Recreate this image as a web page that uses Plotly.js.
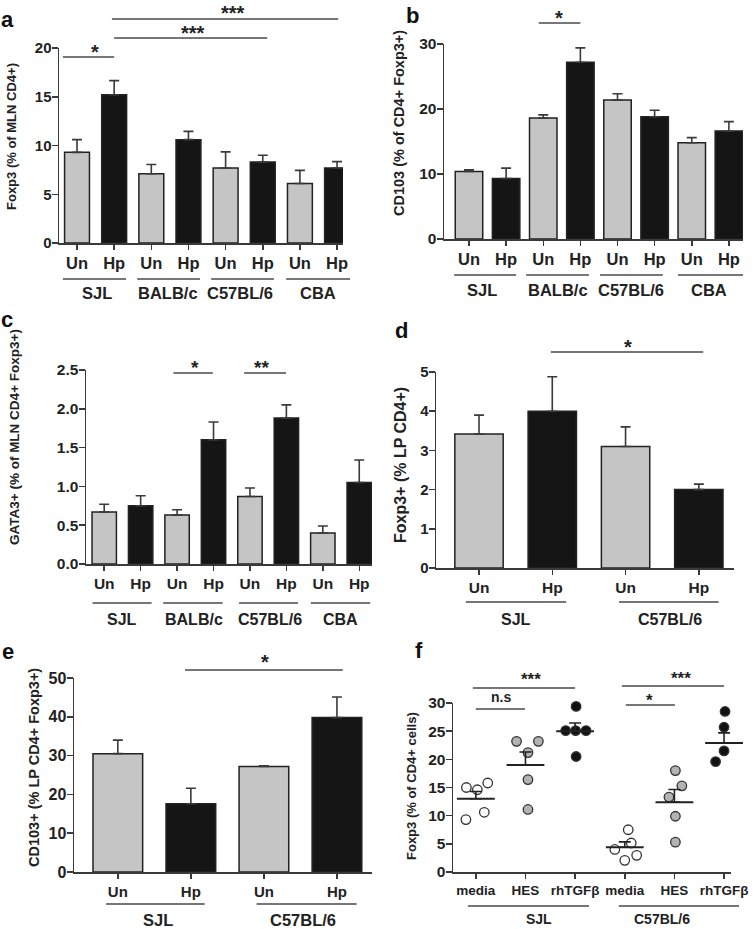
<!DOCTYPE html>
<html>
<head>
<meta charset="utf-8">
<script src="https://cdn.plot.ly/plotly-3.0.1.min.js"></script>
<style>html,body{margin:0;padding:0;background:#fff;}#chart{width:753px;height:929px;}</style>
</head>
<body>
<div id="chart"></div>
<script>
// ---------------- DATA ----------------
const strains4 = ['SJL', 'BALB/c', 'C57BL/6', 'CBA'];
const strains2 = ['SJL', 'C57BL/6'];
const treatments = ['Un', 'Hp'];
const fConditions = ['media', 'HES', 'rhTGFβ'];

// a: Foxp3 (% of MLN CD4+)
const aValues = [9.3, 15.2, 7.1, 10.6, 7.7, 8.3, 6.1, 7.7];
const aSem    = [1.3, 1.45, 0.95, 0.85, 1.65, 0.7, 1.35, 0.65];
// b: CD103 (% of CD4+ Foxp3+)
const bValues = [10.4, 9.3, 18.6, 27.2, 21.4, 18.8, 14.8, 16.6];
const bSem    = [0.25, 1.6, 0.5, 2.2, 0.95, 1.0, 0.8, 1.45];
// c: GATA3+ (% of MLN CD4+ Foxp3+)
const cValues = [0.67, 0.75, 0.63, 1.60, 0.87, 1.88, 0.40, 1.05];
const cSem    = [0.10, 0.13, 0.07, 0.23, 0.11, 0.17, 0.09, 0.29];
// d: Foxp3+ (% LP CD4+)
const dValues = [3.42, 4.0, 3.1, 2.0];
const dSem    = [0.48, 0.88, 0.5, 0.14];
// e: CD103+ (% LP CD4+ Foxp3+)
const eValues = [30.5, 17.6, 27.2, 39.8];
const eSem    = [3.5, 4.0, 0.2, 5.3];
// f: Foxp3 (% of CD4+ cells), individual points per group
const fSJLmedia = [9.3, 10.6, 15.0, 14.6, 15.8];
const fSJLhes   = [23.2, 23.2, 21.2, 16.4, 11.1];
const fSJLtgf   = [29.4, 25.1, 25.1, 25.1, 20.5];
const fC57media = [7.5, 4.0, 5.15, 2.96, 2.07];
const fC57hes   = [18.0, 15.3, 13.3, 9.9, 5.3];
const fC57tgf   = [28.5, 25.7, 21.5, 19.6, 19.6];
const fMeans = [13.0, 19.0, 25.0, 4.4, 12.4, 22.9];
const fSem   = [1.3, 2.3, 1.45, 0.95, 2.25, 1.8];

// ---------------- STYLE / GEOMETRY ----------------
const W = 753, H = 929;
const FONT = '"Liberation Sans", Arial, Helvetica, sans-serif';
const INK = '#222';
const LINE = '#3a3a3a';
const GRAY = '#c5c5c5';
const BLACK = '#151515';
// horizontal jitter of the dots in panel f (visual spread only)
const fJitter = [
  [-0.2, 0.17, -0.19, 0.03, 0.24],
  [-0.18, 0.26, 0.05, 0.05, 0.05],
  [0.02, -0.19, 0.01, 0.22, 0.02],
  [0.07, -0.2, 0.13, 0.24, 0.0],
  [0.02, 0.15, -0.11, 0.02, 0.02],
  [0.02, 0.0, 0.0, -0.17, 0.15]
];
const fGroupColors = ['#ffffff', '#b2b2b2', '#111111'];

const G = {
  a: {x0: 59,  x1: 343, yTop: 48,  yBot: 243, xr: [-0.485, 7.16], yr: [0, 20],  dtick: 5,   fmt: '',    ytf: 15,   xtf: 16.5},
  b: {x0: 444, x1: 743, yTop: 44,  yBot: 239, xr: [-0.673, 7.38], yr: [0, 30],  dtick: 10,  fmt: '',    ytf: 15.5, xtf: 16.5},
  c: {x0: 86,  x1: 372, yTop: 370, yBot: 564, xr: [-0.50, 7.35],  yr: [0, 2.5], dtick: 0.5, fmt: '.1f', ytf: 15.5, xtf: 15.5},
  d: {x0: 436, x1: 734, yTop: 372, yBot: 568, xr: [-0.587, 3.48], yr: [0, 5],   dtick: 1,   fmt: '',    ytf: 15,   xtf: 15.5},
  e: {x0: 74,  x1: 372, yTop: 678, yBot: 872, xr: [-0.60, 3.48],  yr: [0, 50],  dtick: 10,  fmt: '',    ytf: 16,   xtf: 15},
  f: {x0: 453, x1: 731, yTop: 703, yBot: 872, xr: [-0.46, 5.14],  yr: [0, 30],  dtick: 5,   fmt: '',    ytf: 15.5, xtf: 13.5}
};

function cx(g, c) { return (g.x0 + (c - g.xr[0]) / (g.xr[1] - g.xr[0]) * (g.x1 - g.x0)) / W; }
function yp(p) { return 1 - p / H; }

const layout = {
  width: W, height: H,
  margin: {l: 0, r: 0, t: 0, b: 0},
  paper_bgcolor: '#ffffff',
  plot_bgcolor: 'rgba(0,0,0,0)',
  showlegend: false,
  font: {family: FONT, color: INK, size: 14, weight: 'bold'},
  shapes: [],
  annotations: []
};

function barTicks(strains) {
  const v = [], t = [];
  strains.forEach((s, i) => treatments.forEach((tr, j) => { v.push(i * 2 + j); t.push(tr); }));
  return {v, t};
}

function makeAxes(key, idx, tickvals, ticktext) {
  const g = G[key];
  const s = idx === 1 ? '' : String(idx);
  layout['xaxis' + s] = {
    domain: [g.x0 / W, g.x1 / W], range: g.xr, anchor: 'y' + s,
    tickmode: 'array', tickvals: tickvals, ticktext: ticktext,
    ticks: 'outside', ticklen: 5, tickwidth: 1.5, tickcolor: LINE,
    showline: true, linecolor: LINE, linewidth: 1.5,
    showgrid: false, zeroline: false, fixedrange: true,
    tickfont: {family: FONT, size: g.xtf, color: INK, weight: 'bold'}
  };
  layout['yaxis' + s] = {
    domain: [1 - g.yBot / H, 1 - g.yTop / H], range: g.yr, anchor: 'x' + s,
    tickmode: 'linear', tick0: 0, dtick: g.dtick, tickformat: g.fmt,
    ticks: 'outside', ticklen: 6, tickwidth: 1.5, tickcolor: LINE,
    ticklabelstandoff: -3,
    showline: true, linecolor: LINE, linewidth: 1.5,
    showgrid: false, zeroline: false, fixedrange: true,
    tickfont: {family: FONT, size: g.ytf, color: INK, weight: 'bold'}
  };
}

function hline(key, c0, c1, p) {
  const g = G[key];
  layout.shapes.push({type: 'line', xref: 'paper', yref: 'paper',
    x0: cx(g, c0), x1: cx(g, c1), y0: yp(p), y1: yp(p),
    line: {color: '#4a4a4a', width: 1.6}});
}
function label(key, c, p, text, size) {
  const g = G[key];
  layout.annotations.push({xref: 'paper', yref: 'paper', x: cx(g, c), y: yp(p),
    text: text, showarrow: false, xanchor: 'center', yanchor: 'middle',
    font: {family: FONT, size: size, color: INK, weight: 'bold'}});
}
function star(key, c, pCenter, text, size) {
  // asterisks sit high in the text box: shift the box down so the glyph centre lands on pCenter
  label(key, c, pCenter + 0.27 * size, text, size);
}
function ytitle(px, pyc, text, size) {
  layout.annotations.push({xref: 'paper', yref: 'paper', x: px / W, y: yp(pyc), text: text,
    showarrow: false, textangle: -90, xanchor: 'center', yanchor: 'middle',
    font: {family: FONT, size: size, color: INK, weight: 'bold'}});
}
function letter(px, pyc, text) {
  layout.annotations.push({xref: 'paper', yref: 'paper', x: px / W, y: yp(pyc), text: text,
    showarrow: false, xanchor: 'center', yanchor: 'middle',
    font: {family: FONT, size: 22, color: '#111', weight: 'bold'}});
}

const traces = [];
function barTrace(idx, strains, values, sem, width) {
  const s = idx === 1 ? '' : String(idx);
  const tk = barTicks(strains);
  traces.push({
    type: 'bar', x: tk.v, y: values, xaxis: 'x' + s, yaxis: 'y' + s, width: width,
    marker: {color: tk.v.map(v => v % 2 === 0 ? GRAY : BLACK), line: {color: INK, width: 1.5}},
    error_y: {type: 'data', symmetric: false, array: sem, arrayminus: sem.map(() => 0),
      color: LINE, thickness: 1.6, width: 5},
    hoverinfo: 'skip'
  });
  return tk;
}

// ---------- panels a-e (bars) ----------
let tk = barTrace(1, strains4, aValues, aSem, 0.67);
makeAxes('a', 1, tk.v, tk.t);
tk = barTrace(2, strains4, bValues, bSem, 0.74);
makeAxes('b', 2, tk.v, tk.t);
tk = barTrace(3, strains4, cValues, cSem, 0.67);
makeAxes('c', 3, tk.v, tk.t);
tk = barTrace(4, strains2, dValues, dSem, 0.66);
makeAxes('d', 4, tk.v, tk.t);
tk = barTrace(5, strains2, eValues, eSem, 0.68);
makeAxes('e', 5, tk.v, tk.t);

// ---------- panel f (dots + mean ± SEM) ----------
const fGroups = [fSJLmedia, fSJLhes, fSJLtgf, fC57media, fC57hes, fC57tgf];
const fTickVals = [], fTickText = [];
strains2.forEach((s, i) => fConditions.forEach((c, j) => { fTickVals.push(i * 3 + j); fTickText.push(c); }));
fGroups.forEach((pts, gi) => {
  traces.push({
    type: 'scatter', mode: 'markers', xaxis: 'x6', yaxis: 'y6',
    x: pts.map((v, k) => fTickVals[gi] + fJitter[gi][k]), y: pts,
    marker: {size: 9.5, color: fGroupColors[gi % 3], line: {color: '#333', width: 1.3}},
    hoverinfo: 'skip', cliponaxis: false
  });
});
traces.push({
  type: 'scatter', mode: 'markers', xaxis: 'x6', yaxis: 'y6',
  x: fTickVals, y: fMeans,
  marker: {symbol: 'line-ew', size: 27, color: INK, line: {color: INK, width: 2}},
  error_y: {type: 'data', symmetric: false, array: fSem, arrayminus: fSem.map(() => 0),
    color: INK, thickness: 1.6, width: 6},
  hoverinfo: 'skip', cliponaxis: false
});
makeAxes('f', 6, fTickVals, fTickText);

// ---------- group lines & labels ----------
const groupSpans4a = [[-0.38, 1.32], [1.62, 3.31], [3.61, 5.30], [5.63, 7.35]];
const groupSpans4b = [[-0.40, 1.27], [1.54, 3.23], [3.53, 5.22], [5.63, 7.38]];
const groupSpans4c = [[-0.32, 1.30], [1.62, 3.25], [3.70, 5.32], [5.67, 7.30]];
groupSpans4a.forEach(s => hline('a', s[0], s[1], 279));
groupSpans4b.forEach(s => hline('b', s[0], s[1], 275));
groupSpans4c.forEach(s => hline('c', s[0], s[1], 603));
[0.54, 2.45, 4.39, 6.49].forEach((c, i) => label('a', c, 293, strains4[i], 16.5));
[0.35, 2.40, 4.36, 6.46].forEach((c, i) => label('b', c, 290, strains4[i], 16.5));
[0.48, 2.46, 4.55, 6.48].forEach((c, i) => label('c', c, 619, strains4[i], 16));

[[-0.18, 1.19], [1.91, 3.27]].forEach(s => hline('d', s[0], s[1], 602));
[0.5, 2.6].forEach((c, i) => label('d', c, 619, strains2[i], 16));
[[-0.16, 1.19], [1.90, 3.27]].forEach(s => hline('e', s[0], s[1], 904));
[0.55, 2.53].forEach((c, i) => label('e', c, 920, strains2[i], 16.5));
[[-0.16, 2.28], [2.88, 5.30]].forEach(s => hline('f', s[0], s[1], 906));
[1.27, 3.75].forEach((c, i) => label('f', c, 919, strains2[i], 14));

// ---------- significance bars ----------
hline('a', -0.38, 1.0, 57);  star('a', 0.48, 47, '*', 20);
hline('a', 1.0, 5.12, 38);   star('a', 3.12, 28, '***', 20);
hline('a', 0.94, 7.03, 19);  star('a', 4.2, 8, '***', 20);
hline('b', 1.88, 3.0, 23);   star('b', 2.42, 13, '*', 20);
hline('c', 1.9, 2.98, 373);  star('c', 2.49, 362, '*', 19);
hline('c', 3.84, 4.99, 373); star('c', 4.33, 362, '**', 19);
hline('d', 0.98, 3.06, 352); star('d', 2.03, 342, '*', 20);
hline('e', 0.92, 3.08, 670); star('e', 2.01, 657, '*', 20);
hline('f', -0.06, 2.0, 688); star('f', 1.11, 675, '***', 17);
hline('f', 0.0, 0.99, 709);  label('f', 0.5, 697, 'n.s', 14);
hline('f', 2.94, 5.0, 686);  star('f', 4.13, 674, '***', 17);
hline('f', 3.02, 4.01, 705); star('f', 3.49, 696, '*', 17);

// ---------- axis titles ----------
ytitle(11, 137, 'Foxp3 (% of MLN CD4+)', 13);
ytitle(399, 123, 'CD103 (% of CD4+ Foxp3+)', 14.5);
ytitle(15, 437, 'GATA3+ (% of MLN CD4+ Foxp3+)', 13.5);
ytitle(400, 465, 'Foxp3+ (% LP CD4+)', 16);
ytitle(34, 768, 'CD103+ (% LP CD4+ Foxp3+)', 14.5);
ytitle(411, 786, 'Foxp3 (% of CD4+ cells)', 13);

// ---------- panel letters ----------
letter(8, 19, 'a');
letter(413, 16, 'b');
letter(7, 319, 'c');
letter(401, 330, 'd');
letter(8, 651, 'e');
letter(419, 650, 'f');

Plotly.newPlot('chart', traces, layout, {displayModeBar: false, staticPlot: true});
</script>
</body>
</html>
